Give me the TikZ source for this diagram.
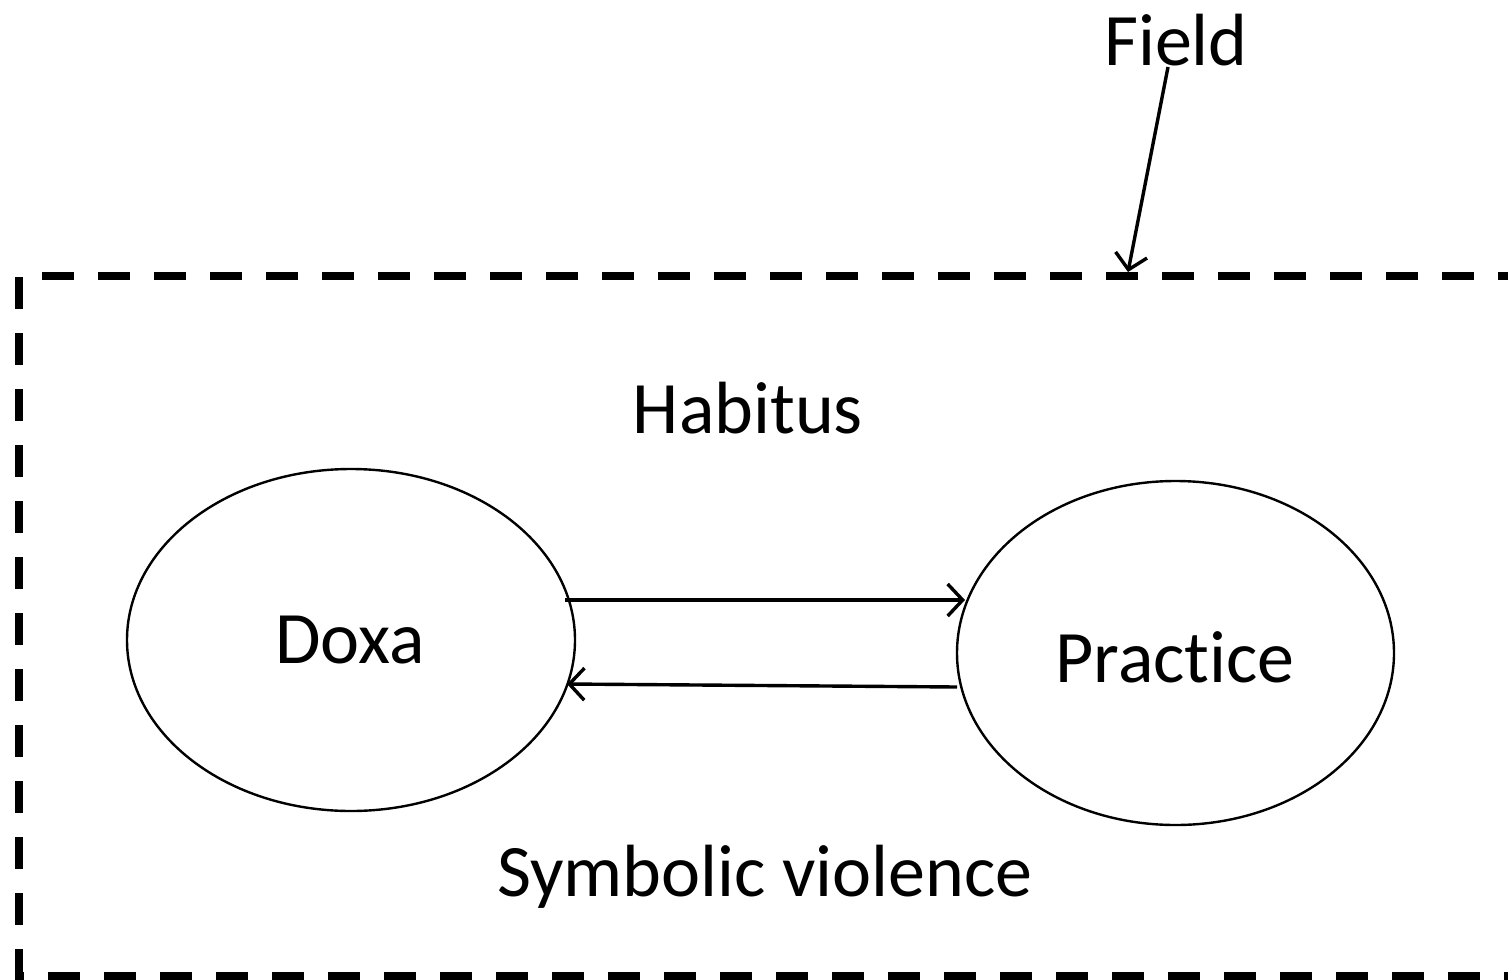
\documentclass[tikz,border=0pt]{standalone}
\usepackage{fontspec}
\setmainfont{Carlito}[Ligatures={NoCommon}]
\usetikzlibrary{arrows.meta,shapes.geometric}
\tikzset{
  lbl/.style={font=\fontsize{74}{84}\selectfont, inner sep=0pt},
  ell/.style={draw, ellipse, line width=2.4pt, inner sep=0pt},
  conn/.style={line width=3.4pt, -{Straight Barb[length=15pt,width=32pt,line width=3.4pt]}},
  fieldbox/.style={line width=8pt, dash pattern=on 32pt off 24pt}
}
\begin{document}
\begin{tikzpicture}[x=1pt,y=-1pt]
\useasboundingbox (0,0) rectangle (1508,980);
\draw[fieldbox] (1530,276) -- (19,276) -- (19,976) -- (1530,976);
\node[ell, minimum width=448pt, minimum height=342pt] (doxa) at (351,640) {};
\node[ell, minimum width=437pt, minimum height=344pt] (prac) at (1175.5,653) {};
\node[lbl] (doxat) at (350,640) {Doxa};
\node[lbl] (pract) at (1175,657) {Practice};
\node[lbl] (hab) at (748,408) {Habitus};
\node[lbl] (sym) at (765,877) {Symbolic violence};
\node[lbl] (field) at (1176,40) {Field};
\coordinate (fs) at (1168,67);
\coordinate (fe) at (1128,272);
\coordinate (a1s) at (565,600);
\coordinate (a1e) at (965,600);
\coordinate (a2s) at (957,687);
\coordinate (a2e) at (567,684);
\draw[conn] (fs) -- (fe);
\draw[conn] (a1s) -- (a1e);
\draw[conn] (a2s) -- (a2e);
\end{tikzpicture}
\end{document}
